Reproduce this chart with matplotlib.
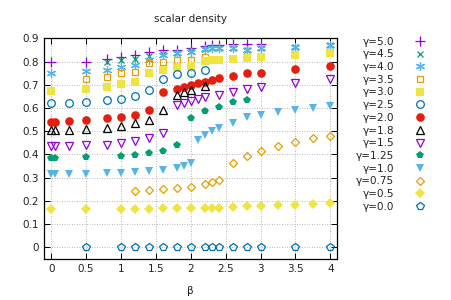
import matplotlib
matplotlib.use("Agg")
import matplotlib.pyplot as plt

# x positions (beta) and scalar density values
x_g50 = [0, 0.5, 0.8, 1.0, 1.2, 1.4, 1.6, 1.8, 2.0, 2.2, 2.3, 2.4, 2.6, 2.8, 3.0]
y_g50 = [0.80, 0.80, 0.813, 0.822, 0.83, 0.84, 0.848, 0.852, 0.86, 0.868, 0.87, 0.87, 0.874, 0.876, 0.874]

x_g45 = [0.8, 1.0, 1.2, 1.4, 1.6, 1.8, 2.0, 2.2, 2.3, 2.4, 2.6, 2.8, 3.0, 3.5, 4.0]
y_g45 = [0.80, 0.805, 0.812, 0.825, 0.832, 0.838, 0.845, 0.855, 0.857, 0.858, 0.858, 0.852, 0.857, 0.864, 0.871]

x_g40 = [0, 0.5, 0.8, 1.0, 1.2, 1.4, 1.6, 1.8, 2.0, 2.2, 2.3, 2.4, 2.6, 2.8, 3.0, 3.5, 4.0]
y_g40 = [0.752, 0.76, 0.766, 0.777, 0.785, 0.806, 0.83, 0.835, 0.842, 0.855, 0.857, 0.857, 0.857, 0.852, 0.857, 0.864, 0.871]

x_g35 = [0.5, 0.8, 1.0, 1.2, 1.4, 1.6, 1.8, 2.0, 2.2]
y_g35 = [0.723, 0.734, 0.749, 0.756, 0.792, 0.80, 0.806, 0.809, 0.82]

x_g30 = [0, 0.5, 0.8, 1.0, 1.2, 1.4, 1.6, 1.8, 2.0, 2.2, 2.3, 2.4, 2.6, 2.8, 3.0, 3.5, 4.0]
y_g30 = [0.674, 0.682, 0.691, 0.703, 0.713, 0.749, 0.766, 0.777, 0.782, 0.803, 0.805, 0.806, 0.81, 0.814, 0.818, 0.828, 0.838]

x_g25 = [0, 0.25, 0.5, 0.8, 1.0, 1.2, 1.4, 1.6, 1.8, 2.0, 2.2]
y_g25 = [0.62, 0.62, 0.625, 0.634, 0.641, 0.651, 0.677, 0.725, 0.745, 0.753, 0.766]

x_g20 = [0, 0.05, 0.25, 0.5, 0.8, 1.0, 1.2, 1.4, 1.6, 1.8, 1.9, 2.0, 2.1, 2.2, 2.3, 2.4, 2.6, 2.8, 3.0, 3.5, 4.0]
y_g20 = [0.541, 0.541, 0.544, 0.548, 0.555, 0.562, 0.572, 0.591, 0.67, 0.684, 0.69, 0.699, 0.706, 0.713, 0.72, 0.728, 0.74, 0.749, 0.753, 0.768, 0.78]

x_g18 = [0, 0.05, 0.25, 0.5, 0.8, 1.0, 1.2, 1.4, 1.6, 1.8, 1.9, 2.0, 2.2]
y_g18 = [0.505, 0.505, 0.505, 0.508, 0.516, 0.522, 0.535, 0.55, 0.59, 0.658, 0.668, 0.676, 0.696]

x_g15 = [0, 0.05, 0.25, 0.5, 0.8, 1.0, 1.2, 1.4, 1.6, 1.8, 1.9, 2.0, 2.1, 2.2, 2.4, 2.6, 2.8, 3.0, 3.5, 4.0]
y_g15 = [0.436, 0.436, 0.436, 0.44, 0.44, 0.45, 0.459, 0.473, 0.491, 0.613, 0.62, 0.63, 0.638, 0.648, 0.658, 0.67, 0.68, 0.69, 0.709, 0.723]

x_g125 = [0, 0.05, 0.5, 1.0, 1.2, 1.4, 1.6, 1.8, 2.0, 2.2, 2.4, 2.6, 2.8]
y_g125 = [0.383, 0.383, 0.387, 0.393, 0.397, 0.405, 0.415, 0.44, 0.558, 0.588, 0.605, 0.627, 0.634]

x_g10 = [0, 0.05, 0.25, 0.5, 0.8, 1.0, 1.2, 1.4, 1.6, 1.8, 1.9, 2.0, 2.1, 2.2, 2.3, 2.4, 2.6, 2.8, 3.0, 3.25, 3.5, 3.75, 4.0]
y_g10 = [0.314, 0.314, 0.314, 0.314, 0.318, 0.321, 0.325, 0.329, 0.334, 0.343, 0.35, 0.364, 0.462, 0.484, 0.5, 0.516, 0.535, 0.56, 0.57, 0.584, 0.591, 0.598, 0.608]

x_g075 = [1.2, 1.4, 1.6, 1.8, 2.0, 2.2, 2.3, 2.4, 2.6, 2.8, 3.0, 3.25, 3.5, 3.75, 4.0]
y_g075 = [0.244, 0.246, 0.25, 0.254, 0.26, 0.272, 0.281, 0.292, 0.365, 0.395, 0.415, 0.437, 0.455, 0.47, 0.48]

x_g05 = [0, 0.5, 1.0, 1.2, 1.4, 1.6, 1.8, 2.0, 2.2, 2.3, 2.4, 2.6, 2.8, 3.0, 3.25, 3.5, 3.75, 4.0]
y_g05 = [0.166, 0.166, 0.166, 0.167, 0.167, 0.168, 0.169, 0.169, 0.17, 0.17, 0.171, 0.175, 0.178, 0.18, 0.181, 0.182, 0.185, 0.19]

x_g00 = [0.5, 1.0, 1.2, 1.4, 1.6, 1.8, 2.0, 2.2, 2.3, 2.4, 2.6, 2.8, 3.0, 3.5, 4.0]
y_g00 = [0, 0, 0, 0, 0, 0, 0, 0, 0, 0, 0, 0, 0, 0, 0]

labels = ["γ=5.0", "γ=4.5", "γ=4.0", "γ=3.5", "γ=3.0", "γ=2.5", "γ=2.0",
          "γ=1.8", "γ=1.5", "γ=1.25", "γ=1.0", "γ=0.75", "γ=0.5", "γ=0.0"]
xs = [x_g50, x_g45, x_g40, x_g35, x_g30, x_g25, x_g20, x_g18, x_g15, x_g125, x_g10, x_g075, x_g05, x_g00]
ys = [y_g50, y_g45, y_g40, y_g35, y_g30, y_g25, y_g20, y_g18, y_g15, y_g125, y_g10, y_g075, y_g05, y_g00]

# gnuplot-like point styles: (marker, color, filled, size)
styles = [
    ("+", "#9400d3", False, 6.5),
    ("x", "#009e73", False, 5.0),
    ("*", "#56b4e9", True, 6.5),
    ("s", "#e69f00", False, 5.0),
    ("s", "#f0e442", True, 5.5),
    ("o", "#0072b2", False, 5.5),
    ("o", "#e51e10", True, 6.2),
    ("^", "#000000", False, 5.2),
    ("v", "#9400d3", False, 5.2),
    ("p", "#009e73", True, 6.0),
    ("v", "#56b4e9", True, 6.0),
    ("D", "#e69f00", False, 4.3),
    ("D", "#f0e442", True, 4.6),
    ("p", "#0072b2", False, 5.5),
]

plt.rcParams['font.family'] = ['DejaVu Sans']
plt.rcParams['font.size'] = 7.5

fig = plt.figure(figsize=(4.51, 3.0), dpi=100)
ax = fig.add_axes([0.098, 0.137, 0.650, 0.735])

for x, y, lab, (m, c, filled, ms) in zip(xs, ys, labels, styles):
    if m == "*":
        # asterisk: plus and cross overlaid
        ax.plot(x, y, linestyle="none", marker=(6, 2, 0), markersize=ms,
                color=c, markeredgewidth=0.9, label=lab)
    elif m in ("+", "x"):
        ax.plot(x, y, linestyle="none", marker=m, markersize=ms, color=c,
                markeredgewidth=0.9, label=lab)
    elif filled:
        ax.plot(x, y, linestyle="none", marker=m, markersize=ms, color=c,
                markeredgewidth=0, label=lab)
    else:
        ax.plot(x, y, linestyle="none", marker=m, markersize=ms, markerfacecolor="none",
                markeredgecolor=c, markeredgewidth=0.9, label=lab)

ax.set_xlim(-0.1, 4.1)
ax.set_ylim(-0.05, 0.9)
ax.set_xticks([0, 0.5, 1, 1.5, 2, 2.5, 3, 3.5, 4])
ax.set_xticklabels(["0", "0.5", "1", "1.5", "2", "2.5", "3", "3.5", "4"])
ax.set_yticks([0, 0.1, 0.2, 0.3, 0.4, 0.5, 0.6, 0.7, 0.8, 0.9])
ax.set_yticklabels(["0", "0.1", "0.2", "0.3", "0.4", "0.5", "0.6", "0.7", "0.8", "0.9"])
ax.tick_params(direction="in", length=4, width=0.7, top=True, right=True, pad=4, colors="#000000")
ax.tick_params(labelcolor="#222222")
for sp in ax.spines.values():
    sp.set_linewidth(0.9)
ax.grid(True, linestyle=(0, (1, 2)), color="#a0a0a0", linewidth=0.6)
ax.set_axisbelow(True)

ax.set_title("scalar density", fontsize=7.5, pad=12, color="#222222")
ax.set_xlabel("β", fontsize=7.5, labelpad=8, color="#222222")

fig.legend(loc="upper right", bbox_to_anchor=(0.943, 0.878), markerfirst=False, frameon=False,
           handlelength=1.0, handletextpad=2.0, labelspacing=0.26, borderaxespad=0,
           borderpad=0, numpoints=1, fontsize=7.5, labelcolor="#222222")

fig.savefig("out.png", dpi=100)
